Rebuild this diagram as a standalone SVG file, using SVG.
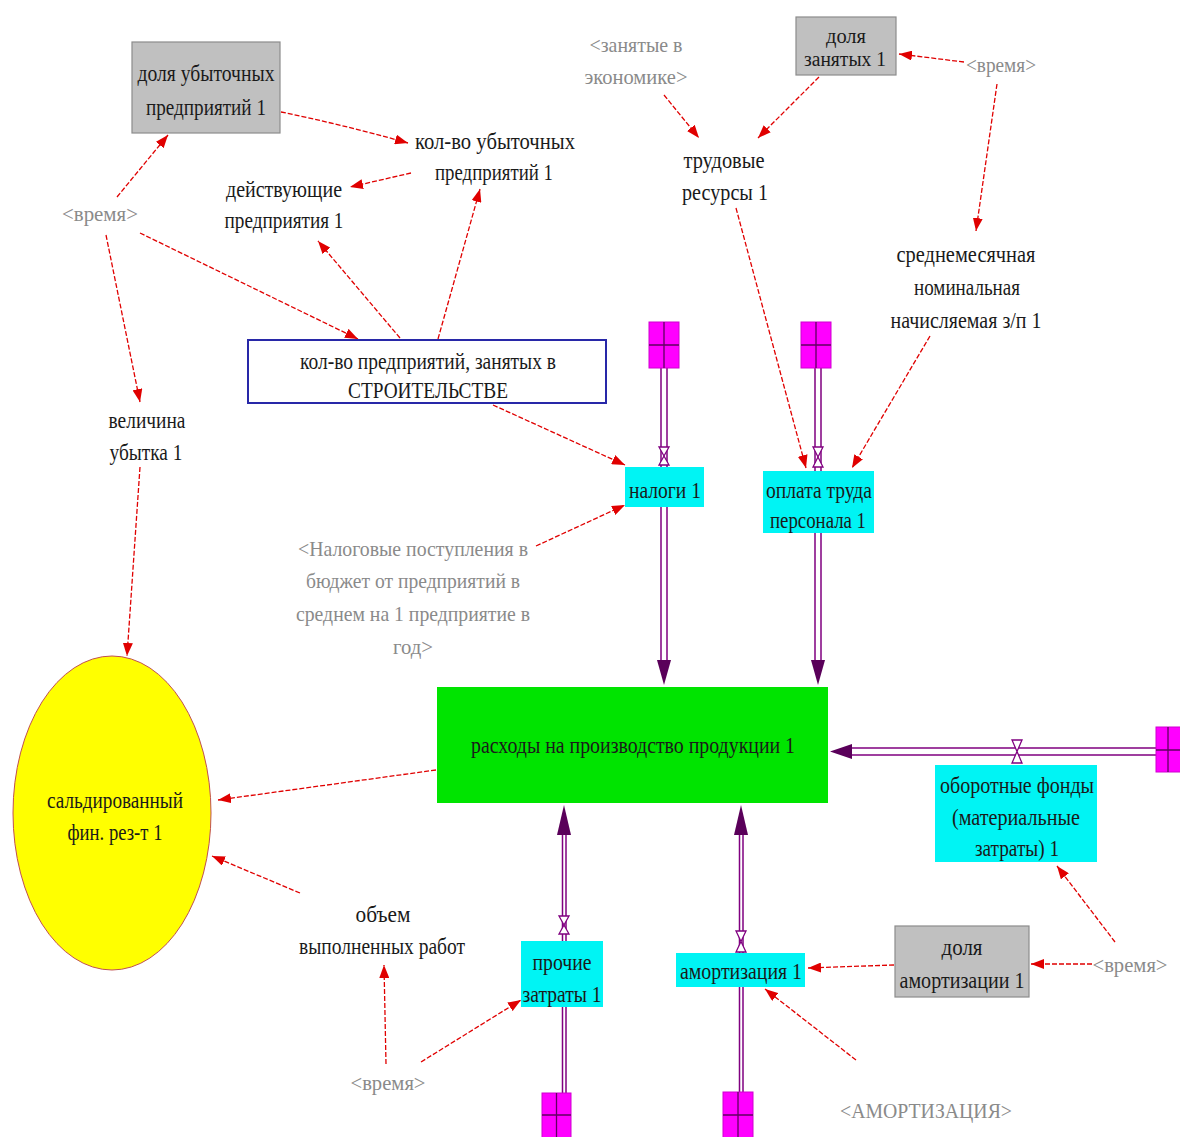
<svg xmlns="http://www.w3.org/2000/svg" width="1180" height="1137" viewBox="0 0 1180 1137">
  <defs>
    <marker id="ah" markerUnits="userSpaceOnUse" markerWidth="14" markerHeight="10" refX="13" refY="5" orient="auto">
      <path d="M0,0 L13,5 L0,10 Z" fill="#e00000"/>
    </marker>
    <style>
      text { font-family: "Liberation Serif", "Times New Roman", serif; font-size: 24px; fill: #1a1a1a; text-anchor: middle; }
      text.sh { fill: #8a8a8a; font-size: 22px; }
      text.sm { font-size: 20px; }
      .link { fill: none; stroke: #e00000; stroke-width: 1.3; stroke-dasharray: 5 2; marker-end: url(#ah); }
      .pipe { fill: none; stroke: #800080; stroke-width: 1.5; }
      .valve { fill: #ffffff; stroke: #800080; stroke-width: 1.3; }
      .head { fill: #5a005a; }
      .cloud { fill: #ff00ff; stroke: #d000d0; stroke-width: 1; }
      .cross { stroke: #600060; stroke-width: 1.3; }
      .aux { fill: #c0c0c0; stroke: #8c8c8c; stroke-width: 1.2; }
      .rate { fill: #00f4f4; }
    </style>
  </defs>
  <rect width="1180" height="1137" fill="#ffffff"/>

  <!-- flow pipes and information links -->
  <g id="connectors">
    <!-- налоги 1 -->
    <path class="pipe" d="M661,368 V668 M667,368 V668"/>
    <polygon class="head" points="657,660 671,660 664,685"/>
    <!-- оплата труда персонала 1 -->
    <path class="pipe" d="M815,368 V668 M821,368 V668"/>
    <polygon class="head" points="811,660 825,660 818,685"/>
    <!-- оборотные фонды -->
    <path class="pipe" d="M850,748 H1156 M850,755 H1156"/>
    <polygon class="head" points="852,744 852,759 830,751.5"/>
    <!-- прочие затраты 1 -->
    <path class="pipe" d="M562.5,835 V1093 M566,835 V1093"/>
    <polygon class="head" points="557,835 571,835 564,805"/>
    <!-- амортизация 1 -->
    <path class="pipe" d="M739.5,835 V1093 M743,835 V1093"/>
    <polygon class="head" points="734,835 748,835 741,805"/>

    <!-- information links -->
    <path class="link" d="M281,112 Q340,124 408,143"/>
    <path class="link" d="M411,173 L350,187"/>
    <path class="link" d="M117,197 L168,135"/>
    <path class="link" d="M140,233 L358,339"/>
    <path class="link" d="M106,235 L140,402"/>
    <path class="link" d="M400,338 L318,241"/>
    <path class="link" d="M438,339 L480,189"/>
    <path class="link" d="M493,405 L625,465"/>
    <path class="link" d="M536,546 L625,505"/>
    <path class="link" d="M664,95 L699,138"/>
    <path class="link" d="M819,77 L758,138"/>
    <path class="link" d="M964,62 L899,54"/>
    <path class="link" d="M997,84 L976,231"/>
    <path class="link" d="M736,208 L806,468"/>
    <path class="link" d="M930,336 L852,468"/>
    <path class="link" d="M140,467 L127,656"/>
    <path class="link" d="M436,770 L218,800"/>
    <path class="link" d="M300,893 L212,856"/>
    <path class="link" d="M386,1064 L384,965"/>
    <path class="link" d="M421,1062 L521,1000"/>
    <path class="link" d="M894,965 L808,968"/>
    <path class="link" d="M1092,964 L1031,964"/>
    <path class="link" d="M1115,942 L1057,866"/>
    <path class="link" d="M856,1060 L765,989"/>
  </g>

  <!-- source clouds -->
  <g id="cloud-tax">
    <rect class="cloud" x="649" y="322" width="30" height="46"/>
    <path class="cross" d="M664,322 V368 M649,345 H679"/>
  </g>
  <g id="cloud-wage">
    <rect class="cloud" x="801" y="322" width="30" height="46"/>
    <path class="cross" d="M816,322 V368 M801,345 H831"/>
  </g>
  <g id="cloud-material">
    <rect class="cloud" x="1156" y="727" width="28" height="45"/>
    <path class="cross" d="M1168,727 V772 M1156,750 H1184"/>
  </g>
  <g id="cloud-other">
    <rect class="cloud" x="542" y="1093" width="29" height="48"/>
    <path class="cross" d="M556.5,1093 V1141 M542,1115 H571"/>
  </g>
  <g id="cloud-amort">
    <rect class="cloud" x="723" y="1092" width="30" height="48"/>
    <path class="cross" d="M738,1092 V1140 M723,1115 H753"/>
  </g>

  <!-- valves -->
  <g id="valve-tax"><path class="valve" d="M659,447 H669 L659,465 H669 Z"/></g>
  <g id="valve-wage"><path class="valve" d="M813,447 H823 L813,467 H823 Z"/></g>
  <g id="valve-material"><path class="valve" d="M1012,740 H1022 L1012,763 H1022 Z"/></g>
  <g id="valve-other"><path class="valve" d="M559,916 H569 L559,934 H569 Z"/></g>
  <g id="valve-amort"><path class="valve" d="M736,931 H746 L736,952 H746 Z"/></g>

  <!-- nodes -->
  <g id="share-loss">
    <rect class="aux" x="132" y="42" width="148" height="91"/>
    <text x="206" y="81" textLength="137" lengthAdjust="spacingAndGlyphs">доля убыточных</text>
    <text x="206" y="115" textLength="120" lengthAdjust="spacingAndGlyphs">предприятий 1</text>
  </g>
  <g id="loss-count">
    <text x="495" y="149" textLength="160" lengthAdjust="spacingAndGlyphs">кол-во убыточных</text>
    <text x="494" y="180" textLength="118" lengthAdjust="spacingAndGlyphs">предприятий 1</text>
  </g>
  <g id="active">
    <text x="284" y="197" textLength="116" lengthAdjust="spacingAndGlyphs">действующие</text>
    <text x="284" y="228" textLength="119" lengthAdjust="spacingAndGlyphs">предприятия 1</text>
  </g>
  <g id="time-1">
    <text class="sh" x="100" y="221" textLength="76" lengthAdjust="spacingAndGlyphs">&lt;время&gt;</text>
  </g>
  <g id="firms">
    <rect x="248" y="340" width="358" height="63" fill="#ffffff" stroke="#2828a8" stroke-width="2"/>
    <text x="428" y="369" textLength="256" lengthAdjust="spacingAndGlyphs">кол-во предприятий, занятых в</text>
    <text x="428" y="398" textLength="160" lengthAdjust="spacingAndGlyphs">СТРОИТЕЛЬСТВЕ</text>
  </g>
  <g id="loss-size">
    <text x="147" y="428" textLength="77" lengthAdjust="spacingAndGlyphs">величина</text>
    <text x="146" y="460" textLength="73" lengthAdjust="spacingAndGlyphs">убытка 1</text>
  </g>
  <g id="employed">
    <text class="sh" x="636" y="52" textLength="93" lengthAdjust="spacingAndGlyphs">&lt;занятые в</text>
    <text class="sh" x="636" y="84" textLength="103" lengthAdjust="spacingAndGlyphs">экономике&gt;</text>
  </g>
  <g id="share-employed">
    <rect class="aux" x="796" y="17" width="100" height="58"/>
    <text class="sm" x="846" y="43" textLength="40" lengthAdjust="spacingAndGlyphs">доля</text>
    <text class="sm" x="845" y="66" textLength="82" lengthAdjust="spacingAndGlyphs">занятых 1</text>
  </g>
  <g id="time-2">
    <text class="sh" x="1001" y="72" textLength="70" lengthAdjust="spacingAndGlyphs">&lt;время&gt;</text>
  </g>
  <g id="labour">
    <text x="724" y="168" textLength="81" lengthAdjust="spacingAndGlyphs">трудовые</text>
    <text x="725" y="200" textLength="86" lengthAdjust="spacingAndGlyphs">ресурсы 1</text>
  </g>
  <g id="avg-wage">
    <text x="966" y="262" textLength="139" lengthAdjust="spacingAndGlyphs">среднемесячная</text>
    <text x="967" y="295" textLength="106" lengthAdjust="spacingAndGlyphs">номинальная</text>
    <text x="966" y="328" textLength="151" lengthAdjust="spacingAndGlyphs">начисляемая з/п 1</text>
  </g>
  <g id="tax">
    <rect class="rate" x="625" y="467" width="79" height="40"/>
    <text x="665" y="498" textLength="72" lengthAdjust="spacingAndGlyphs">налоги 1</text>
  </g>
  <g id="wage">
    <rect class="rate" x="763" y="471" width="111" height="62"/>
    <text x="819" y="498" textLength="106" lengthAdjust="spacingAndGlyphs">оплата труда</text>
    <text x="818" y="528" textLength="96" lengthAdjust="spacingAndGlyphs">персонала 1</text>
  </g>
  <g id="tax-revenue">
    <text class="sh" x="413" y="556" textLength="230" lengthAdjust="spacingAndGlyphs">&lt;Налоговые поступления в</text>
    <text class="sh" x="413" y="588" textLength="214" lengthAdjust="spacingAndGlyphs">бюджет от предприятий в</text>
    <text class="sh" x="413" y="621" textLength="234" lengthAdjust="spacingAndGlyphs">среднем на 1 предприятие в</text>
    <text class="sh" x="413" y="654" textLength="40" lengthAdjust="spacingAndGlyphs">год&gt;</text>
  </g>
  <g id="costs">
    <rect x="437" y="687" width="391" height="116" fill="#00e400"/>
    <text x="633" y="753" textLength="324" lengthAdjust="spacingAndGlyphs">расходы на производство продукции 1</text>
  </g>
  <g id="balance">
    <ellipse cx="112" cy="813" rx="99" ry="157" fill="#ffff00" stroke="#c05050" stroke-width="1"/>
    <text x="115" y="808" textLength="136" lengthAdjust="spacingAndGlyphs">сальдированный</text>
    <text x="115" y="840" textLength="95" lengthAdjust="spacingAndGlyphs">фин. рез-т 1</text>
  </g>
  <g id="material">
    <rect class="rate" x="935" y="765" width="162" height="97"/>
    <text x="1017" y="793" textLength="154" lengthAdjust="spacingAndGlyphs">оборотные фонды</text>
    <text x="1016" y="825" textLength="128" lengthAdjust="spacingAndGlyphs">(материальные</text>
    <text x="1017" y="856" textLength="84" lengthAdjust="spacingAndGlyphs">затраты) 1</text>
  </g>
  <g id="work-volume">
    <text x="383" y="922" textLength="55" lengthAdjust="spacingAndGlyphs">объем</text>
    <text x="382" y="954" textLength="166" lengthAdjust="spacingAndGlyphs">выполненных работ</text>
  </g>
  <g id="other">
    <rect class="rate" x="521" y="941" width="82" height="66"/>
    <text x="562" y="970" textLength="59" lengthAdjust="spacingAndGlyphs">прочие</text>
    <text x="562" y="1002" textLength="79" lengthAdjust="spacingAndGlyphs">затраты 1</text>
  </g>
  <g id="amort">
    <rect class="rate" x="676" y="953" width="129" height="34"/>
    <text x="741" y="979" textLength="122" lengthAdjust="spacingAndGlyphs">амортизация 1</text>
  </g>
  <g id="share-amort">
    <rect class="aux" x="895" y="926" width="134" height="71"/>
    <text x="962" y="955" textLength="41" lengthAdjust="spacingAndGlyphs">доля</text>
    <text x="962" y="988" textLength="125" lengthAdjust="spacingAndGlyphs">амортизации 1</text>
  </g>
  <g id="time-3">
    <text class="sh" x="1130" y="972" textLength="75" lengthAdjust="spacingAndGlyphs">&lt;время&gt;</text>
  </g>
  <g id="time-4">
    <text class="sh" x="388" y="1090" textLength="75" lengthAdjust="spacingAndGlyphs">&lt;время&gt;</text>
  </g>
  <g id="amort-ext">
    <text class="sh" x="926" y="1118" textLength="172" lengthAdjust="spacingAndGlyphs">&lt;АМОРТИЗАЦИЯ&gt;</text>
  </g>
</svg>
